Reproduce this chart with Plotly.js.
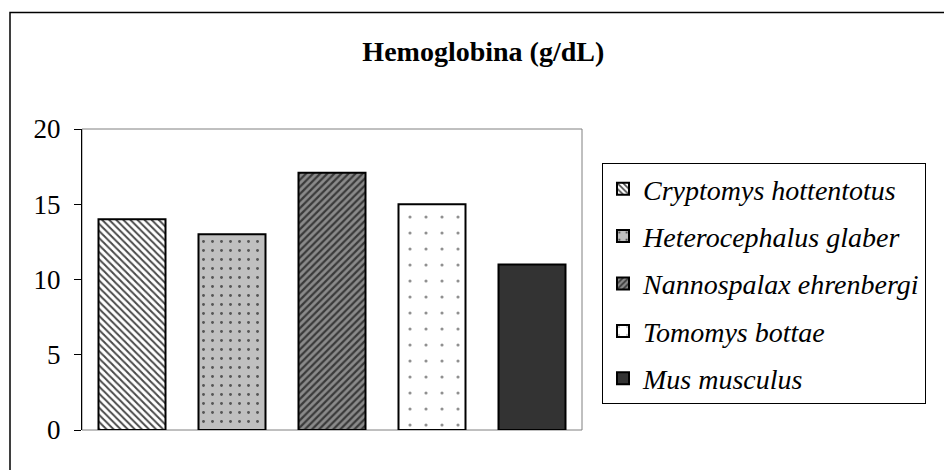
<!DOCTYPE html>
<html>
<head>
<meta charset="utf-8">
<script src="https://cdn.plot.ly/plotly-3.0.1.min.js"></script>
<style>html,body{margin:0;padding:0;background:#fff;}#chart{width:944px;height:470px;}</style>
</head>
<body>
<div id="chart"></div>
<script>
// Data
const species = ["Cryptomys hottentotus", "Heterocephalus glaber", "Nannospalax ehrenbergi", "Tomomys bottae", "Mus musculus"];
const hemoglobin = [14, 13, 17.1, 15, 11];
const yTicks = [0, 5, 10, 15, 20];
const chartTitle = "Hemoglobina (g/dL)";

// Styles (fill patterns approximating the original)
const styles = [
  {shape: "\\", fg: "#4a4a4a", bg: "#ffffff", size: 5, solidity: 0.4, color: "#ffffff"},
  {shape: ".", fg: "#555555", bg: "#c0c0c0", size: 9, solidity: 0.08, color: "#c0c0c0"},
  {shape: "/", fg: "#3a3a3a", bg: "#8a8a8a", size: 5, solidity: 0.45, color: "#8a8a8a"},
  {shape: ".", fg: "#909090", bg: "#ffffff", size: 16, solidity: 0.03, color: "#ffffff"},
  {shape: "", fg: "#333333", bg: "#333333", size: 8, solidity: 1, color: "#333333"}
];

const traces = species.map((name, i) => {
  const s = styles[i];
  const marker = {color: s.color, line: {color: "#000000", width: 2}};
  if (s.shape) {
    marker.pattern = {shape: s.shape, fgcolor: s.fg, bgcolor: s.bg, size: s.size, solidity: s.solidity, fillmode: "replace"};
  }
  return {
    type: "bar",
    name: name,
    x: [i],
    y: [hemoglobin[i]],
    width: 0.67,
    marker: marker,
    legendgroup: "g" + i,
    hoverinfo: "name+y"
  };
});

const L = 82, R = 582, T = 129, B = 430;
const W = 944, H = 470;
const pw = R - L, ph = B - T;
const px = v => (v - L) / pw;
const py = v => (B - v) / ph;
const serif = "'Liberation Serif', 'Times New Roman', serif";

const layout = {
  width: W, height: H,
  margin: {l: L, r: W - R, t: T, b: H - B, pad: 0},
  paper_bgcolor: "#ffffff",
  plot_bgcolor: "#ffffff",
  font: {family: serif, color: "#000000"},
  title: {
    text: "<b>" + chartTitle + "</b>",
    font: {family: serif, size: 28, color: "#000000"},
    xref: "container", yref: "container",
    x: 0.512, xanchor: "center",
    y: 1 - 51 / H, yanchor: "middle"
  },
  barmode: "overlay",
  showlegend: true,
  legend: {
    x: px(602), y: py(163), xanchor: "left", yanchor: "top",
    bordercolor: "#000000", borderwidth: 1, bgcolor: "#ffffff",
    font: {family: serif, size: 28, color: "#000000", style: "italic"},
    traceorder: "grouped", tracegroupgap: 8
  },
  xaxis: {
    range: [-0.5, 4.5],
    showticklabels: false, ticks: "", showgrid: false, zeroline: false,
    showline: false, fixedrange: true
  },
  yaxis: {
    range: [0, 20],
    tickvals: yTicks, ticktext: yTicks.map(String),
    ticks: "outside", ticklen: 7, tickcolor: "#000000", tickwidth: 1,
    ticklabelstandoff: 8,
    showgrid: false, zeroline: false,
    showline: true, linecolor: "#000000", linewidth: 1,
    tickfont: {family: serif, size: 27, color: "#000000"},
    fixedrange: true
  },
  shapes: [
    {type: "rect", xref: "paper", yref: "paper", x0: 0, x1: 1, y0: 0, y1: 1,
     line: {color: "#808080", width: 1}, fillcolor: "rgba(0,0,0,0)", layer: "below"},
    {type: "rect", xref: "paper", yref: "paper", x0: px(10), x1: px(960), y0: py(12.5), y1: py(490),
     line: {color: "#000000", width: 1.5}, fillcolor: "rgba(0,0,0,0)", layer: "below"}
  ]
};

Plotly.newPlot("chart", traces, layout, {displayModeBar: false});
</script>
</body>
</html>
